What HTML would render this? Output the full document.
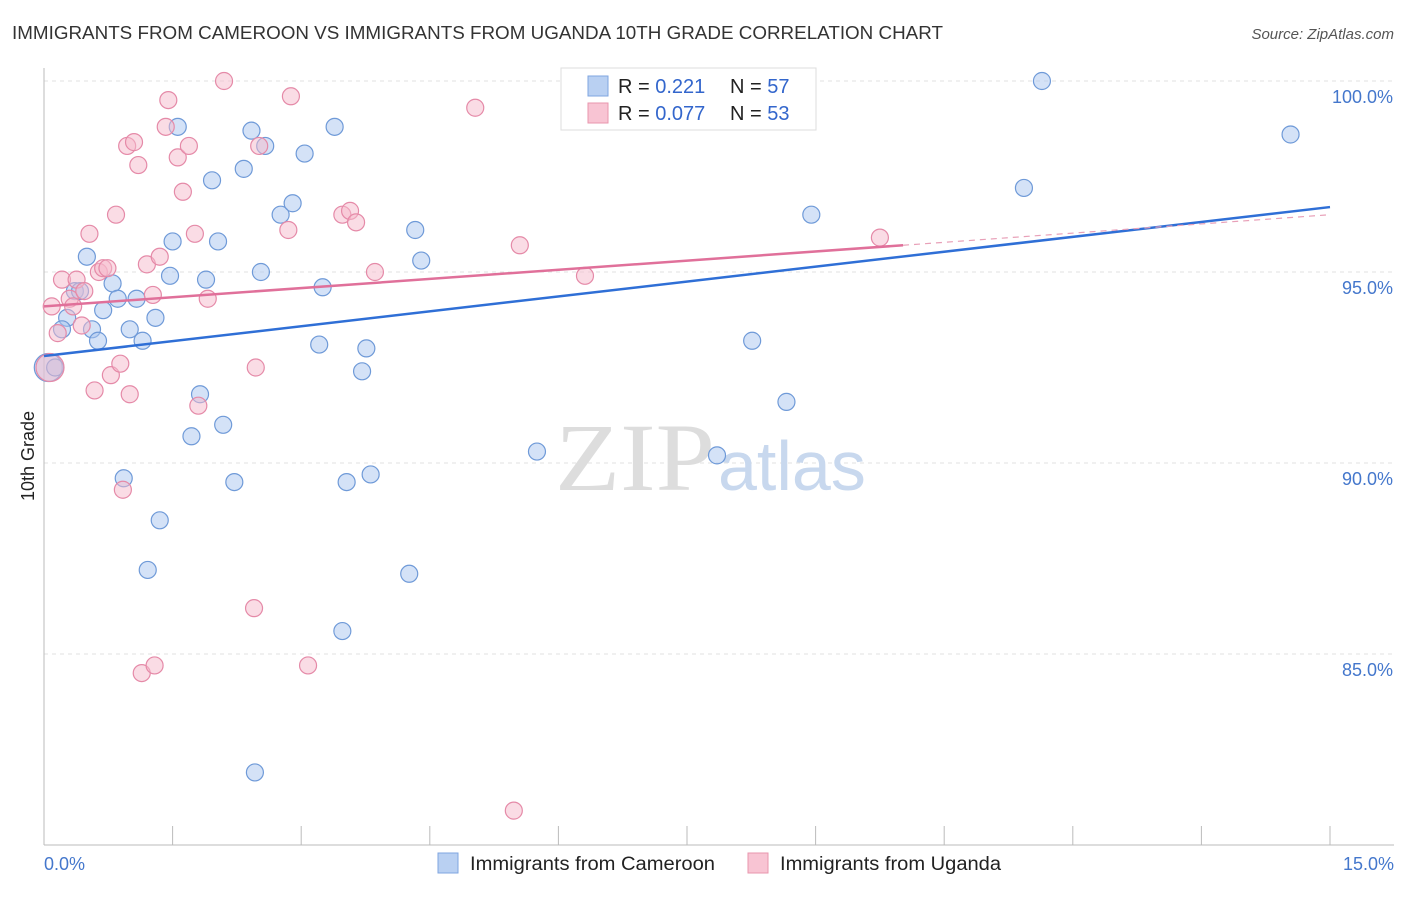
<!DOCTYPE html>
<html><head><meta charset="utf-8"><style>
body{margin:0;background:#fff;font-family:"Liberation Sans",sans-serif;}
</style></head><body>
<svg width="1406" height="892" xmlns="http://www.w3.org/2000/svg">
<text x="12" y="39" font-size="18" fill="#333" textLength="931" lengthAdjust="spacingAndGlyphs">IMMIGRANTS FROM CAMEROON VS IMMIGRANTS FROM UGANDA 10TH GRADE CORRELATION CHART</text>
<text x="1394" y="39" font-size="15" fill="#555" font-style="italic" text-anchor="end">Source: ZipAtlas.com</text>
<g id="grid"></g>
<text x="555" y="490" font-size="96" fill="#ddd" textLength="160" lengthAdjust="spacingAndGlyphs" font-family="Liberation Serif">ZIP</text>
<text x="718" y="490" font-size="70" fill="#c8d8ee">atlas</text>
<g id="axes"></g>
<g id="pts"></g>
<g id="trend"></g>
<text transform="translate(34,456) rotate(-90)" font-size="18" fill="#222" text-anchor="middle">10th Grade</text>
<text x="44" y="870" font-size="18" fill="#4477cc">0.0%</text>
<text x="1394" y="870" font-size="18" fill="#4477cc" text-anchor="end">15.0%</text>
<g>
<rect x="561" y="68" width="255" height="62" fill="#fff" stroke="#ddd"/>
<rect x="588" y="76" width="20" height="20" fill="#b9d0f2" stroke="#7fa6e0"/>
<rect x="588" y="103" width="20" height="20" fill="#f8c4d3" stroke="#e896ae"/>
<text x="618" y="93" font-size="20" fill="#222">R = <tspan fill="#3366cc">0.221</tspan></text>
<text x="730" y="93" font-size="20" fill="#222">N = <tspan fill="#3366cc">57</tspan></text>
<text x="618" y="120" font-size="20" fill="#222">R = <tspan fill="#3366cc">0.077</tspan></text>
<text x="730" y="120" font-size="20" fill="#222">N = <tspan fill="#3366cc">53</tspan></text>
</g>
<g>
<rect x="438" y="853" width="20" height="20" fill="#b9d0f2" stroke="#7fa6e0"/>
<text x="470" y="870" font-size="19" fill="#222" textLength="245" lengthAdjust="spacingAndGlyphs">Immigrants from Cameroon</text>
<rect x="748" y="853" width="20" height="20" fill="#f8c4d3" stroke="#e896ae"/>
<text x="780" y="870" font-size="19" fill="#222" textLength="221" lengthAdjust="spacingAndGlyphs">Immigrants from Uganda</text>
</g>
</svg>
<script>
const yTicks=[100,95,90,85];
const yTickLabels=["100.0%","95.0%","90.0%","85.0%"];
const xTicks=[0,1.5,3,4.5,6,7.5,9,10.5,12,13.5,15];
const camX=[0.05,0.13,0.5,0.36,0.42,0.27,0.21,0.56,0.63,0.69,0.8,0.86,1.0,1.08,1.15,1.3,1.47,1.5,1.56,1.89,1.96,2.03,2.33,2.42,2.58,2.53,2.76,2.9,3.04,3.25,3.39,3.21,3.71,3.76,4.33,4.4,1.82,1.72,2.09,0.93,1.35,2.22,1.21,3.53,3.81,4.26,3.48,2.46,5.75,7.85,8.26,8.66,8.95,11.43,11.64,14.54];
const camY=[92.5,92.5,95.4,94.5,94.5,93.8,93.5,93.5,93.2,94.0,94.7,94.3,93.5,94.3,93.2,93.8,94.9,95.8,98.8,94.8,97.4,95.8,97.7,98.7,98.3,95.0,96.5,96.8,98.1,94.6,98.8,93.1,92.4,93.0,96.1,95.3,91.8,90.7,91.0,89.6,88.5,89.5,87.2,89.5,89.7,87.1,85.6,81.9,90.3,90.2,93.2,91.6,96.5,97.2,100.0,98.6];
const ugX=[0.07,0.16,0.09,0.21,0.3,0.34,0.38,0.47,0.44,0.53,0.59,0.64,0.69,0.74,0.78,0.84,0.89,0.92,0.97,1.0,1.05,1.1,1.2,1.27,1.35,1.42,1.45,1.56,1.62,1.69,1.76,1.8,1.91,2.1,2.45,2.47,2.51,2.85,2.88,3.08,1.14,1.29,3.48,3.57,3.64,3.86,5.03,5.55,6.31,5.48,9.75];
const ugY=[92.5,93.4,94.1,94.8,94.3,94.1,94.8,94.5,93.6,96.0,91.9,95.0,95.1,95.1,92.3,96.5,92.6,89.3,98.3,91.8,98.4,97.8,95.2,94.4,95.4,98.8,99.5,98.0,97.1,98.3,96.0,91.5,94.3,100.0,86.2,92.5,98.3,96.1,99.6,84.7,84.5,84.7,96.5,96.6,96.3,95.0,99.3,95.7,94.9,80.9,95.9];
const camTrend=[[0,92.8],[15,96.7]];
const ugTrend=[[0,94.1],[10.02,95.7],[15,96.5]];
const X=v=>44+v*(1330-44)/15, Y=v=>81+(100-v)*38.2;
const NS="http://www.w3.org/2000/svg";
function mk(p,t,a){const e=document.createElementNS(NS,t);for(const k in a)e.setAttribute(k,a[k]);document.getElementById(p).appendChild(e);return e;}
yTicks.forEach((t,i)=>{
 const l=mk('grid','line',{x1:44,x2:1394,y1:Y(t),y2:Y(t),stroke:'#e2e2e2','stroke-dasharray':'4,4'});
 
 
 const tx=mk('grid','text',{x:1393,y:Y(t)+22,'font-size':18,fill:'#4477cc','text-anchor':'end'});
 tx.textContent=yTickLabels[i];
 
 
});
const ax=mk('axes','line',{x1:44,x2:44,y1:68,y2:845,stroke:'#bbb'});


const bx=mk('axes','line',{x1:44,x2:1394,y1:845,y2:845,stroke:'#bbb'});


xTicks.forEach(t=>{const k=mk('axes','line',{x1:X(t),x2:X(t),y1:826,y2:845,stroke:'#bbb'});
 
 });
function pts(xs,ys,fill,stroke,name){xs.forEach((x,i)=>{
 const c=mk('pts','circle',{cx:X(x),cy:Y(ys[i]),r:i==0?14:8.5,fill:fill,'fill-opacity':0.5,stroke:stroke,'stroke-width':1.2});
 
 });}
pts(camX,camY,'#a9c6f0','#6f9ad8','cameroon-point');
pts(ugX,ugY,'#f6b9cc','#e58aa8','uganda-point');
const b=mk('trend','line',{x1:X(camTrend[0][0]),y1:Y(camTrend[0][1]),x2:X(camTrend[1][0]),y2:Y(camTrend[1][1]),stroke:'#2f6fd6','stroke-width':2.5});


const p=mk('trend','line',{x1:X(ugTrend[0][0]),y1:Y(ugTrend[0][1]),x2:X(ugTrend[1][0]),y2:Y(ugTrend[1][1]),stroke:'#e0709a','stroke-width':2.5});


const pd=mk('trend','line',{x1:X(ugTrend[1][0]),y1:Y(ugTrend[1][1]),x2:X(ugTrend[2][0]),y2:Y(ugTrend[2][1]),stroke:'#e8a0b8','stroke-width':1.2,'stroke-dasharray':'6,5'});


</script>
</body></html>
